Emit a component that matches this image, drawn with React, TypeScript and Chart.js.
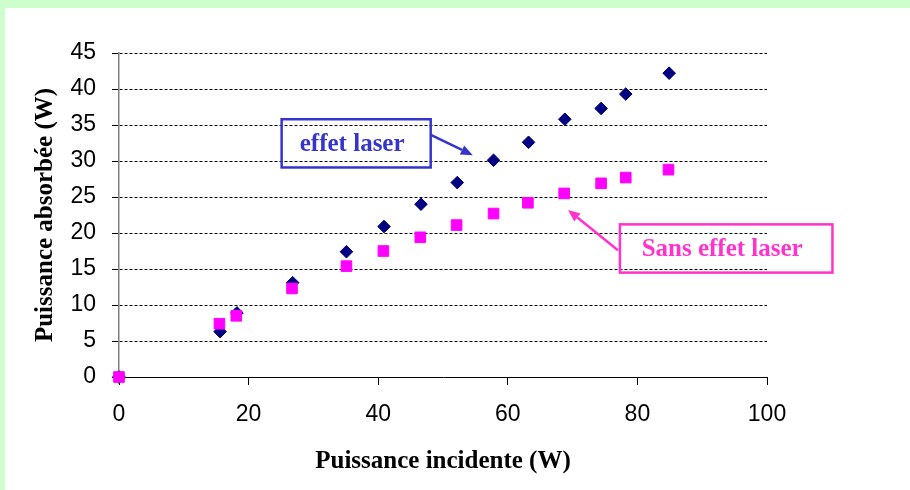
import React, { useEffect, useRef } from 'react';
import { Chart, registerables } from 'chart.js';

Chart.register(...registerables);

// Puissance incidente (W) / Puissance absorbée (W)
const incidentLaser = [0, 15.6, 18.2, 26.8, 35.1, 40.9, 46.6, 52.2, 57.8, 63.2, 68.8, 74.4, 78.2, 84.9];
const absorbedLaser = [0, 6.3, 8.9, 13.1, 17.4, 20.9, 24.0, 27.0, 30.1, 32.6, 35.8, 37.3, 39.3, 42.2];
const incidentNoLaser = [0, 15.5, 18.1, 26.7, 35.1, 40.8, 46.5, 52.1, 57.8, 63.1, 68.7, 74.4, 78.2, 84.8];
const absorbedNoLaser = [0, 7.4, 8.5, 12.3, 15.4, 17.5, 19.4, 21.1, 22.7, 24.2, 25.5, 26.9, 27.7, 28.8];

const xTitle = 'Puissance incidente (W)';
const yTitle = 'Puissance absorbée (W)';

// Annotation labels, boxes and arrows in data coordinates
const annotLabels = ['effet laser', 'Sans effet laser'];
const annotColors = ['#3535cc', '#ff33cc'];
const annotBoxX = [[25.1, 48.1], [77.3, 110.1]];
const annotBoxY = [[35.8, 29.1], [21.2, 14.5]];
const annotArrowFrom = [[48.2, 33.6], [77.0, 17.6]];
const annotArrowTo = [[54.6, 30.8], [69.3, 23.2]];

const backgroundPlugin = {
  id: 'bgPanel',
  beforeDraw(chart: any) {
    const { ctx, width, height } = chart;
    ctx.save();
    ctx.fillStyle = '#ccffcc';
    ctx.fillRect(0, 0, width, height);
    ctx.fillStyle = '#ffffff';
    ctx.fillRect(5, 8, width - 5, height - 8);
    ctx.restore();
  },
};

const annotationPlugin = {
  id: 'annots',
  afterDraw(chart: any) {
    const { ctx } = chart;
    const xs = chart.scales.x;
    const ys = chart.scales.y;
    ctx.save();
    annotLabels.forEach((label, i) => {
      const color = annotColors[i];
      const x1 = xs.getPixelForValue(annotBoxX[i][0]);
      const x2 = xs.getPixelForValue(annotBoxX[i][1]);
      const y1 = ys.getPixelForValue(annotBoxY[i][0]);
      const y2 = ys.getPixelForValue(annotBoxY[i][1]);
      ctx.strokeStyle = color;
      ctx.fillStyle = color;
      ctx.lineWidth = 2.5;
      ctx.setLineDash([]);
      ctx.strokeRect(x1, y1, x2 - x1, y2 - y1);
      ctx.font = 'bold 25px "Liberation Serif", "Times New Roman", serif';
      ctx.textAlign = 'center';
      ctx.textBaseline = 'middle';
      ctx.fillText(label, (x1 + x2) / 2 - 4, (y1 + y2) / 2 + 1);
      // arrow
      const ax1 = xs.getPixelForValue(annotArrowFrom[i][0]);
      const ay1 = ys.getPixelForValue(annotArrowFrom[i][1]);
      const ax2 = xs.getPixelForValue(annotArrowTo[i][0]);
      const ay2 = ys.getPixelForValue(annotArrowTo[i][1]);
      const ang = Math.atan2(ay2 - ay1, ax2 - ax1);
      const headLen = 12;
      const headHalf = 5;
      const bx = ax2 - headLen * Math.cos(ang);
      const by = ay2 - headLen * Math.sin(ang);
      ctx.beginPath();
      ctx.moveTo(ax1, ay1);
      ctx.lineTo(bx, by);
      ctx.stroke();
      ctx.beginPath();
      ctx.moveTo(ax2, ay2);
      ctx.lineTo(bx + headHalf * Math.sin(ang), by - headHalf * Math.cos(ang));
      ctx.lineTo(bx - headHalf * Math.sin(ang), by + headHalf * Math.cos(ang));
      ctx.closePath();
      ctx.fill();
    });
    ctx.restore();
  },
};

export default function App() {
  const canvasRef = useRef<HTMLCanvasElement | null>(null);

  useEffect(() => {
    if (!canvasRef.current) return;
    const tickFont = { family: '"Liberation Sans", Arial, sans-serif', size: 23 };
    const titleFont = { family: '"Liberation Serif", "Times New Roman", serif', size: 25, weight: 'bold' as const };
    const chart = new Chart(canvasRef.current, {
      type: 'scatter',
      data: {
        datasets: [
          {
            label: 'Sans effet laser',
            data: incidentNoLaser.map((x, i) => ({ x, y: absorbedNoLaser[i] })),
            pointStyle: 'rect',
            pointRadius: 7.5,
            pointBorderWidth: 1,
            backgroundColor: '#ff00ff',
            borderColor: '#ff00ff',
            clip: false,
          },
          {
            label: 'effet laser',
            data: incidentLaser.map((x, i) => ({ x, y: absorbedLaser[i] })),
            pointStyle: 'rectRot',
            pointRadius: 6.3,
            pointBorderWidth: 1,
            backgroundColor: '#000080',
            borderColor: '#000080',
            clip: false,
          },
        ],
      },
      options: {
        animation: false,
        responsive: false,
        maintainAspectRatio: false,
        layout: { padding: { top: 53, right: 143, bottom: 0, left: 0 } },
        plugins: {
          legend: { display: false },
          tooltip: { enabled: false },
        },
        scales: {
          x: {
            type: 'linear',
            min: 0,
            max: 100,
            ticks: { stepSize: 20, color: '#000', font: tickFont, padding: 16 },
            grid: {
              display: true,
              drawOnChartArea: false,
              drawTicks: true,
              tickLength: 8,
              tickColor: '#000',
              tickWidth: 1,
            },
            border: { display: true, color: '#000', width: 1 },
            title: {
              display: true,
              text: xTitle,
              color: '#000',
              font: titleFont,
              padding: { top: 0, bottom: 13 },
            },
            afterFit: (s: any) => {
              s.height = 113;
            },
          },
          y: {
            type: 'linear',
            min: 0,
            max: 45,
            ticks: { stepSize: 5, color: '#000', font: tickFont, padding: 16 },
            grid: {
              display: true,
              drawOnChartArea: true,
              drawTicks: true,
              tickLength: 7,
              color: '#000',
              lineWidth: 1,
              tickColor: '#000',
              tickWidth: 1,
            },
            border: { display: true, color: '#808080', width: 1.5, dash: [3, 2] },
            title: {
              display: true,
              text: yTitle,
              color: '#000',
              font: titleFont,
              padding: { top: 31, bottom: 0 },
            },
            afterFit: (s: any) => {
              s.width = 119;
            },
          },
        },
      },
      plugins: [backgroundPlugin, annotationPlugin],
    });
    return () => chart.destroy();
  }, []);

  return (
    <div style={{ position: 'absolute', left: 0, top: 0, width: 910, height: 490 }}>
      <canvas ref={canvasRef} width={910} height={490} style={{ display: 'block', width: 910, height: 490 }} />
    </div>
  );
}
